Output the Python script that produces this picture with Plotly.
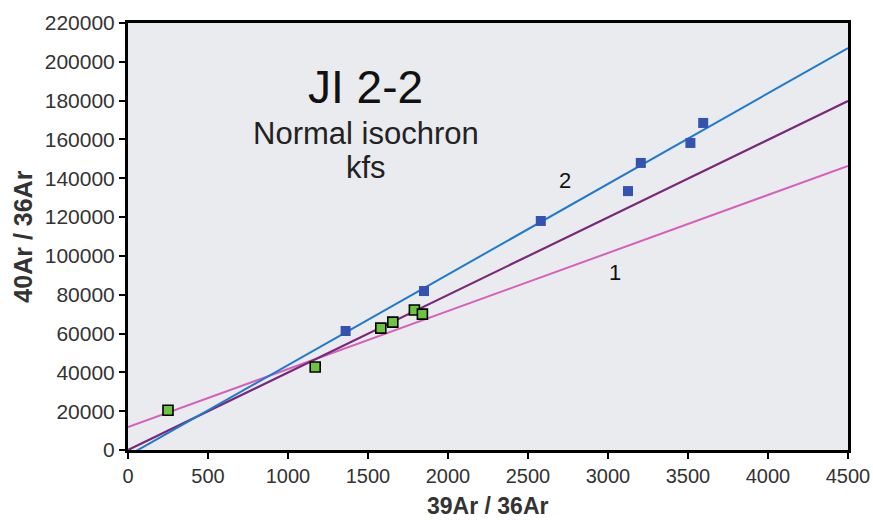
import plotly.graph_objects as go

# --- data ---
green_x = [250, 1170, 1580, 1655, 1790, 1840]
green_y = [20500, 42800, 62800, 65900, 72100, 70000]

blue_x = [1360, 1850, 2580, 3125, 3205, 3515, 3595]
blue_y = [61300, 81900, 118000, 133400, 147900, 158200, 168500]

# isochron lines: (intercept, slope)
line_blue = (-2900, 46.67)
line_purple = (0, 39.95)
line_pink = (11800, 29.9)
line_x = [0, 4500]

x_ticks = list(range(0, 4501, 500))
y_ticks = list(range(0, 220001, 20000))

FONT = "Liberation Sans, Arial, sans-serif"

def line_y(p):
    return [p[0] + p[1] * x for x in line_x]

fig = go.Figure()
fig.add_trace(go.Scatter(x=line_x, y=line_y(line_pink), mode="lines",
                         line=dict(color="rgb(214,96,186)", width=2), showlegend=False))
fig.add_trace(go.Scatter(x=line_x, y=line_y(line_purple), mode="lines",
                         line=dict(color="rgb(122,40,122)", width=2.2), showlegend=False))
fig.add_trace(go.Scatter(x=line_x, y=line_y(line_blue), mode="lines",
                         line=dict(color="rgb(30,122,204)", width=2), showlegend=False))
fig.add_trace(go.Scatter(x=blue_x, y=blue_y, mode="markers",
                         marker=dict(symbol="square", size=10, color="rgb(52,82,176)",
                                     line=dict(width=0)), showlegend=False))
fig.add_trace(go.Scatter(x=green_x, y=green_y, mode="markers",
                         marker=dict(symbol="square", size=10, color="rgb(108,196,64)",
                                     line=dict(color="black", width=1.6)), showlegend=False))

annotations = [
    dict(x=1487, y=187000, text="JI 2-2", font=dict(size=46, color="#111")),
    dict(x=1487, y=163300, text="Normal isochron", font=dict(size=31, color="#222")),
    dict(x=1487, y=145300, text="kfs", font=dict(size=31, color="#222")),
    dict(x=2730, y=138600, text="2", font=dict(size=22, color="#111")),
    dict(x=3044, y=91700, text="1", font=dict(size=22, color="#111")),
]
for a in annotations:
    a.update(xref="x", yref="y", showarrow=False, xanchor="center", yanchor="middle")

annotations.append(dict(xref="paper", yref="paper", x=-0.147, y=0.5, text="<b>40Ar / 36Ar</b>",
                        textangle=-90, showarrow=False, xanchor="center", yanchor="middle",
                        font=dict(size=25, color="#333")))
annotations.append(dict(xref="paper", yref="paper", x=0.5, y=-0.131, text="<b>39Ar / 36Ar</b>",
                        showarrow=False, xanchor="center", yanchor="middle",
                        font=dict(size=23, color="#333")))

axis_common = dict(showgrid=False, zeroline=False, showline=True, linecolor="black",
                   linewidth=3, mirror=True, ticks="outside", ticklen=6, tickwidth=2,
                   tickcolor="black", automargin=False)

fig.update_layout(
    template="none",
    width=873, height=520,
    margin=dict(l=128, r=25, t=23, b=70, autoexpand=False),
    paper_bgcolor="white",
    plot_bgcolor="rgb(234,235,238)",
    font=dict(family=FONT, color="#333"),
    annotations=annotations,
    xaxis=dict(range=[0, 4500], tickvals=x_ticks, ticktext=[str(v) for v in x_ticks],
               tickfont=dict(size=20, color="#333"), **axis_common),
    yaxis=dict(range=[0, 220000], tickvals=y_ticks, ticktext=[str(v) for v in y_ticks],
               tickfont=dict(size=21, color="#333"), **axis_common),
)

fig.write_html("out.html")
